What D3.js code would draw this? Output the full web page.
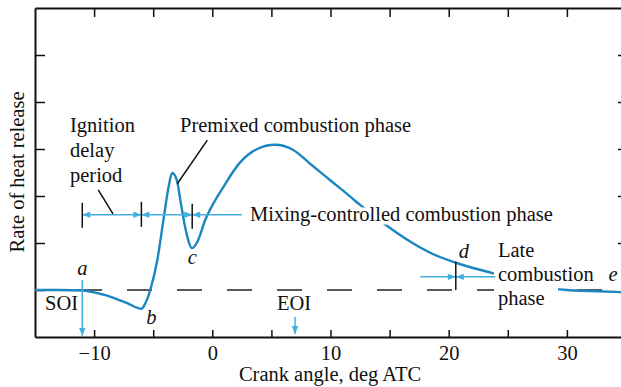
<!DOCTYPE html>
<html>
<head>
<meta charset="utf-8">
<script src="https://cdn.jsdelivr.net/npm/d3@7"></script>
<style>
  body { margin: 0; background: #fff; }
  text { font-family: "Liberation Serif", "Times New Roman", serif; fill: #111; }
</style>
</head>
<body>
<div id="graf"></div>
<script>
// Datos (ángulo de cigüeñal, tasa de liberación de calor)
const crankAngle = [-15, -13, -11, -9.2, -7.2, -6.0, -5.7, -5.25, -4.65, -4.1, -3.7, -3.4, -3.0, -2.7, -2.3, -1.7,
  -1.2, -0.6, -0.17, 0.93, 2.37, 3.8, 5.3, 6.85, 8.3, 10.0, 11.7, 12.5, 14.8, 16.8, 18.7, 20.6, 23.7, 26, 28, 30, 32, 35]
const heatRelease = [0, 0, -0.01, -0.1, -0.28, -0.4, -0.3, 0, 0.64, 1.55, 2.19, 2.49, 2.34, 1.91, 1.34, 0.89,
  1.06, 1.49, 1.72, 2.19, 2.72, 3.0, 3.09, 2.98, 2.68, 2.33, 1.98, 1.81, 1.36, 1.02, 0.76, 0.58, 0.36, 0.2, 0.06, 0, -0.02, -0.05]

const xTicks = [-10, -5, 0, 5, 10, 15, 20, 25, 30]
const xLabels = [-10, 0, 10, 20, 30]
const yTicks = [0, 1, 2, 3, 4, 5]

// Puntos característicos
const puntoA = -11, puntoB = -6, puntoC = -1.7, puntoD = 20.6, eoi = 7

const ancho = 621
const alto = 387
const azul = '#1b86bf'
const celeste = '#41b0e0'
const fuente = '20.5px'

const svg = d3.select('#graf').append('svg')
  .attr('width', ancho)
  .attr('height', alto)

const x = d3.scaleLinear().domain([-15, 35]).range([35, 626])
const y = d3.scaleLinear().domain([-1, 6]).range([337, 8])

// Flechas
const defs = svg.append('defs')
defs.append('marker')
  .attr('id', 'flecha')
  .attr('viewBox', '0 -5 10 10')
  .attr('refX', 10).attr('refY', 0)
  .attr('markerWidth', 10).attr('markerHeight', 8)
  .attr('markerUnits', 'userSpaceOnUse')
  .attr('orient', 'auto-start-reverse')
  .append('path').attr('d', 'M0,-4L10,0L0,4Z').attr('fill', celeste)

// Ejes
const ejeX = svg.append('g')
  .attr('transform', `translate(0, ${y(-1)})`)
  .call(d3.axisBottom(x).tickValues(xTicks).tickSizeInner(-7).tickSizeOuter(0).tickPadding(8)
    .tickFormat(d => xLabels.includes(d) ? d3.format('')(d) : ''))
svg.append('g')
  .attr('transform', `translate(0, ${y(6)})`)
  .call(d3.axisTop(x).tickValues(xTicks).tickSizeInner(-9).tickSizeOuter(0).tickFormat(''))
svg.append('g')
  .attr('transform', `translate(${x(-15)}, 0)`)
  .call(d3.axisLeft(y).tickValues(yTicks).tickSizeInner(-10).tickSizeOuter(0).tickFormat(''))
svg.append('g')
  .attr('transform', `translate(${x(35)}, 0)`)
  .call(d3.axisRight(y).tickValues(yTicks.slice(1)).tickSizeInner(-8).tickSizeOuter(0).tickFormat(''))

svg.selectAll('.domain').attr('stroke', '#111').attr('stroke-width', 2)
svg.selectAll('.tick line').attr('stroke', '#111').attr('stroke-width', 1.5)
ejeX.selectAll('.tick text').style('font-size', fuente).attr('fill', '#111')

// Títulos de ejes
svg.append('text')
  .attr('x', 330).attr('y', 381)
  .attr('text-anchor', 'middle')
  .style('font-size', fuente)
  .text('Crank angle, deg ATC')

svg.append('text')
  .attr('transform', 'translate(24, 172) rotate(-90)')
  .attr('text-anchor', 'middle')
  .style('font-size', fuente)
  .text('Rate of heat release')

// Línea de referencia (cero)
svg.append('line')
  .attr('x1', x(-15)).attr('x2', x(35))
  .attr('y1', y(0)).attr('y2', y(0))
  .attr('stroke', '#222').attr('stroke-width', 1.3)
  .attr('stroke-dasharray', '25,25').attr('stroke-dashoffset', 8)

// Curva
const linea = d3.line()
  .x((d, i) => x(crankAngle[i]))
  .y(d => y(d))
  .curve(d3.curveMonotoneX)

svg.append('path')
  .datum(heatRelease)
  .attr('fill', 'none')
  .attr('stroke', azul)
  .attr('stroke-width', 2.4)
  .attr('d', linea)

// Fondo blanco del texto "Late combustion phase"
svg.append('rect')
  .attr('x', 494).attr('y', 240).attr('width', 64).attr('height', 72)
  .attr('fill', '#fff')

// Líneas de cota
const cota = (x1, x2, yv, ambos) => svg.append('line')
  .attr('x1', x1).attr('x2', x2).attr('y1', y(yv)).attr('y2', y(yv))
  .attr('stroke', celeste).attr('stroke-width', 1.5)
  .attr('marker-end', 'url(#flecha)')
  .attr('marker-start', ambos ? 'url(#flecha)' : null)

cota(x(puntoA), x(puntoB), 1.6, true)
cota(x(puntoB), x(puntoC), 1.6, true)
cota(x(2.5), x(puntoC), 1.6, false)
cota(x(17.6), x(puntoD), 0.28, false)
cota(x(24), x(puntoD), 0.28, false)

const barra = (xv, y1, y2) => svg.append('line')
  .attr('x1', x(xv)).attr('x2', x(xv)).attr('y1', y1).attr('y2', y2)
  .attr('stroke', '#111').attr('stroke-width', 1.5)

barra(puntoA, y(1.6) - 12, y(1.6) + 13)
barra(puntoB, y(1.6) - 13, y(1.6) + 12)
barra(puntoC, y(1.6) - 11, y(1.6) + 14)
barra(puntoD, y(0.6), y(0))

// Flechas SOI / EOI
svg.append('line')
  .attr('x1', x(puntoA)).attr('x2', x(puntoA)).attr('y1', 280).attr('y2', 336)
  .attr('stroke', celeste).attr('stroke-width', 1.5).attr('marker-end', 'url(#flecha)')
svg.append('line')
  .attr('x1', x(eoi)).attr('x2', x(eoi)).attr('y1', 317).attr('y2', 334)
  .attr('stroke', celeste).attr('stroke-width', 1.5).attr('marker-end', 'url(#flecha)')

// Líneas guía
const guia = (a1, v1, a2, v2) => svg.append('line')
  .attr('x1', x(a1)).attr('y1', y(v1)).attr('x2', x(a2)).attr('y2', y(v2))
  .attr('stroke', '#111').attr('stroke-width', 1.5)
guia(-9.65, 2.13, -8.4, 1.62)
guia(-0.42, 3.19, -2.96, 2.26)

// Textos
const texto = (tx, ty, t, opts = {}) => svg.append('text')
  .attr('x', tx).attr('y', ty)
  .attr('text-anchor', opts.anchor || 'start')
  .style('font-size', fuente)
  .style('font-style', opts.italic ? 'italic' : 'normal')
  .style('paint-order', opts.halo ? 'stroke' : null)
  .attr('stroke', opts.halo ? '#fff' : null)
  .attr('stroke-width', opts.halo ? 7 : null)
  .text(t)

texto(70, 132, 'Ignition')
texto(70, 157, 'delay')
texto(70, 182, 'period')
texto(180, 132, 'Premixed combustion phase')
texto(250, 221, 'Mixing-controlled combustion phase', { halo: true })
texto(498, 257, 'Late', { halo: true })
texto(498, 281, 'combustion', { halo: true })
texto(498, 305, 'phase', { halo: true })
texto(45, 310, 'SOI')
texto(277, 310, 'EOI')

texto(x(puntoA), 275, 'a', { italic: true, anchor: 'middle' })
texto(x(puntoB) + 10, 324, 'b', { italic: true, anchor: 'middle' })
texto(x(puntoC), 264, 'c', { italic: true, anchor: 'middle' })
texto(x(puntoD) + 8, 258, 'd', { italic: true, anchor: 'middle' })
texto(613, 281, 'e', { italic: true, anchor: 'middle' })
</script>
</body>
</html>
